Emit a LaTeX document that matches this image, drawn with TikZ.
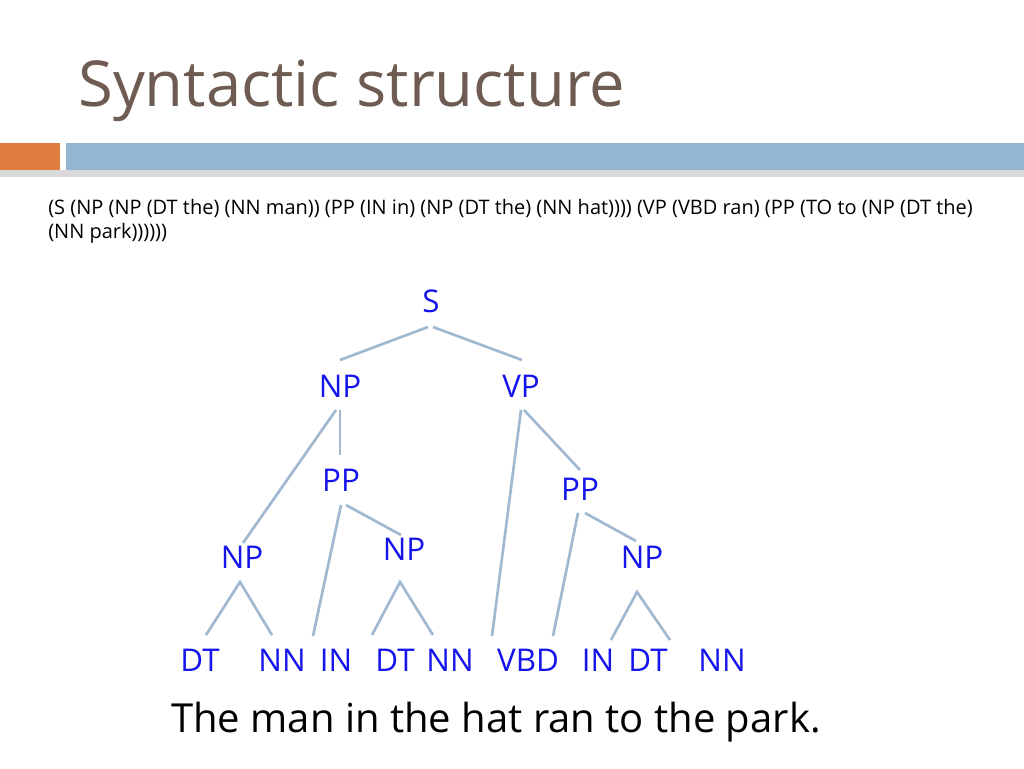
\documentclass[tikz,border=0pt]{standalone}
\usepackage{fontspec}
\setmainfont{Open Sans}
\definecolor{titlec}{RGB}{110,92,82}
\definecolor{orangec}{RGB}{224,126,64}
\definecolor{bluec}{RGB}{148,182,210}
\definecolor{edgec}{RGB}{160,185,208}
\definecolor{labc}{RGB}{20,20,235}
\begin{document}
\begin{tikzpicture}[x=0.75pt,y=-0.75pt,
  lab/.style={text=labc,font=\fontsize{23.5}{24}\selectfont,inner sep=1pt},
  edge/.style={draw=edgec,line width=2pt}]
\useasboundingbox (0,0) rectangle (1024,768);
\fill[white] (0,0) rectangle (1024,768);
\node[anchor=base west,text=titlec,font=\fontsize{47.5}{50}\selectfont,inner sep=0] (title) at (78,106) {Syntactic structure};
\fill[gray!30] (0,170) rectangle (1024,177);
\fill[orangec] (0,143) rectangle (60,170);
\fill[bluec] (66,143) rectangle (1024,170);
\node[anchor=base west,font=\fontsize{15}{18}\selectfont,inner sep=0,align=left] (br) at (48,238) {(S (NP (NP (DT the) (NN man)) (PP (IN in) (NP (DT the) (NN hat)))) (VP (VBD ran) (PP (TO to (NP (DT the)\\(NN park))))))};
\node[lab] (s) at (431,301) {S};
\node[lab] (np) at (340,386) {NP};
\node[lab] (vp) at (521,386) {VP};
\node[lab] (pp1) at (341,480) {PP};
\node[lab] (pp2) at (580,489) {PP};
\node[lab] (np1) at (242,557) {NP};
\node[lab] (np2) at (404,549) {NP};
\node[lab] (np3) at (642,557) {NP};
\node[lab] (dt1) at (200,660) {DT};
\node[lab] (nn1) at (282,660) {NN};
\node[lab] (in1) at (336,660) {IN};
\node[lab] (dt2) at (395,660) {DT};
\node[lab] (nn2) at (450,660) {NN};
\node[lab] (vbd) at (528,660) {VBD};
\node[lab] (in2) at (598,660) {IN};
\node[lab] (dt3) at (648,660) {DT};
\node[lab] (nn3) at (722,660) {NN};
\node[font=\fontsize{30}{32}\selectfont,inner sep=0] (sent) at (496,722) {The man in the hat ran to the park.};
\coordinate (c1) at (428,327); \coordinate (c2) at (433,327);
\coordinate (c3) at (340,360); \coordinate (c4) at (522,360);
\draw[edge] (c3) -- (c1); \draw[edge] (c2) -- (c4);
\coordinate (a1) at (340,410); \coordinate (a2) at (340,455); \coordinate (a3) at (336,410); \coordinate (a4) at (243,543);
\draw[edge] (a1) -- (a2); \draw[edge] (a3) -- (a4);
\coordinate (b1) at (521,410); \coordinate (b2) at (492,636); \coordinate (b3) at (524,410); \coordinate (b4) at (580,470);
\draw[edge] (b1) -- (b2); \draw[edge] (b3) -- (b4);
\coordinate (d1) at (341,505); \coordinate (d2) at (313,636); \coordinate (d3) at (346,505); \coordinate (d4) at (401,535);
\draw[edge] (d1) -- (d2); \draw[edge] (d3) -- (d4);
\coordinate (e1) at (578,513); \coordinate (e2) at (553,636); \coordinate (e3) at (585,513); \coordinate (e4) at (636,541);
\draw[edge] (e1) -- (e2); \draw[edge] (e3) -- (e4);
\coordinate (f0) at (240,582); \coordinate (f1) at (206,635); \coordinate (f2) at (272,635);
\draw[edge] (f1) -- (f0) -- (f2);
\coordinate (g0) at (400,582); \coordinate (g1) at (372,635); \coordinate (g2) at (433,635);
\draw[edge] (g1) -- (g0) -- (g2);
\coordinate (h0) at (637,592); \coordinate (h1) at (611,640); \coordinate (h2) at (670,640);
\draw[edge] (h1) -- (h0) -- (h2);
\end{tikzpicture}
\end{document}
